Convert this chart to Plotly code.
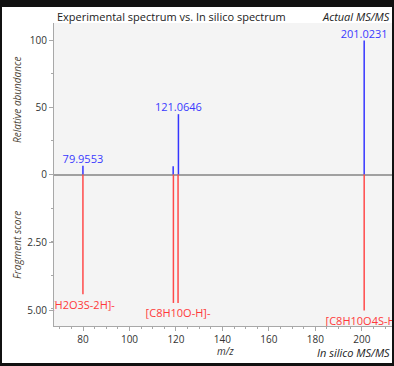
import plotly.graph_objects as go

# Experimental (top) spectrum: m/z and relative abundance
exp_mz = [79.9553, 118.8, 121.0646, 201.0231]
exp_int = [6.5, 6.2, 45, 100]
exp_labels = ["79.9553", "", "121.0646", "201.0231"]

# In silico (bottom) spectrum: m/z and fragment score
sil_mz = [79.9553, 118.9, 120.9, 201.0231]
sil_score = [4.4, 4.72, 4.72, 5.0]
sil_labels = ["[H2O3S-2H]-", "", "[C8H10O-H]-", "[C8H10O4S-H]-"]

abund_ticks = [0, 50, 100]
score_ticks = [2.5, 5.0]

SCORE_SCALE = 20.3  # score units mapped onto the mirrored axis
LABEL_GAP = 4.5     # extra gap (axis units) between in-silico stem end and label

# page geometry: white panel inset in a dark frame
PAGE_W, PAGE_H = 394, 366
OX, OY = 2, 7                 # panel offset on the page
W, H = 390, 356               # figure size
PL, PR, PT, PB = 54, 392, 23, 326   # plot area in page pixels
L, T = PL - OX, PT - OY
R, B = (OX + W) - PR, (OY + H) - PB
PW, PH = PR - PL, PB - PT
FONT = "Open Sans"


def px(x):
    return (x - PL) / PW


def py(y):
    return (PB - y) / PH


def stems(xs, ys):
    X, Y = [], []
    for x, y in zip(xs, ys):
        X += [x, x, None]
        Y += [0, y, None]
    return X, Y


fig = go.Figure()

bx, by = stems(exp_mz, exp_int)
fig.add_trace(go.Scatter(x=bx, y=by, mode="lines",
                         line=dict(color="#3535ff", width=1.5),
                         hoverinfo="skip", showlegend=False))
sil_y = [-s * SCORE_SCALE for s in sil_score]
rx, ry = stems(sil_mz, sil_y)
fig.add_trace(go.Scatter(x=rx, y=ry, mode="lines",
                         line=dict(color="#ff4a4a", width=1.5),
                         hoverinfo="skip", showlegend=False))

fig.add_trace(go.Scatter(x=exp_mz, y=exp_int, mode="text", text=exp_labels,
                         textposition="top center",
                         textfont=dict(family=FONT, size=11, color="#3a3aff"),
                         cliponaxis=True, hoverinfo="skip", showlegend=False))
fig.add_trace(go.Scatter(x=sil_mz, y=[v - LABEL_GAP for v in sil_y],
                         mode="text", text=sil_labels,
                         textposition="bottom center",
                         textfont=dict(family=FONT, size=11, color="#ff3a3a"),
                         cliponaxis=True, hoverinfo="skip", showlegend=False))

ytick_vals = [-s * SCORE_SCALE for s in score_ticks] + abund_ticks
ytick_text = ["%.2f" % s for s in score_ticks] + [str(v) for v in abund_ticks]

axis_common = dict(showgrid=False, showline=True, linecolor="#a8a8a8",
                   linewidth=1, ticks="outside", ticklen=4, tickcolor="#a8a8a8",
                   tickfont=dict(family=FONT, size=10, color="#333"))

fig.update_xaxes(range=[67.5, 213], dtick=20, tick0=0, zeroline=False,
                 minor=dict(dtick=5, tick0=0, ticks="outside", ticklen=2,
                            tickcolor="#a8a8a8"),
                 **axis_common)
fig.update_yaxes(range=[-113, 113], tickmode="array", tickvals=ytick_vals,
                 ticktext=ytick_text, zeroline=True, zerolinecolor="#a0a0a0",
                 zerolinewidth=2,
                 minor=dict(tickmode="linear", dtick=25, tick0=0,
                            ticks="outside", ticklen=2, tickcolor="#a8a8a8"),
                 **axis_common)

ann = []
ann.append(dict(text="Experimental spectrum vs. In silico spectrum",
                x=px(55), y=py(16), xanchor="left", yanchor="middle",
                font=dict(family=FONT, size=11, color="#222")))
ann.append(dict(text="<i>Actual MS/MS</i>", x=px(392), y=py(16),
                xanchor="right", yanchor="middle",
                font=dict(family=FONT, size=11, color="#222")))
ann.append(dict(text="<i>m/z</i>", x=px(225), y=py(351),
                xanchor="center", yanchor="middle",
                font=dict(family=FONT, size=10, color="#333")))
ann.append(dict(text="<i>In silico MS/MS</i>", x=px(392), y=py(352),
                xanchor="right", yanchor="middle",
                font=dict(family=FONT, size=11, color="#222")))
ann.append(dict(text="<i>Relative abundance</i>", x=px(17), y=py(100),
                textangle=-90, xanchor="center", yanchor="middle",
                font=dict(family=FONT, size=10, color="#4a4232")))
ann.append(dict(text="<i>Fragment score</i>", x=px(17), y=py(245),
                textangle=-90, xanchor="center", yanchor="middle",
                font=dict(family=FONT, size=10, color="#4a4232")))
for a in ann:
    a.update(xref="paper", yref="paper", showarrow=False)

fig.update_layout(width=W, height=H,
                  margin=dict(l=L, r=R, t=T, b=B, pad=0),
                  paper_bgcolor="white", plot_bgcolor="#f4f4f4",
                  annotations=ann, showlegend=False)

post = (
    "document.documentElement.style.background='#111';"
    "document.body.style.margin='0';"
    "document.body.style.overflow='hidden';"
    "document.body.style.background='#111';"
    "var gd=document.getElementById('{plot_id}');"
    "gd.style.position='absolute';"
    "gd.style.left='%dpx';gd.style.top='%dpx';" % (OX, OY)
)
fig.write_html("out.html", config={"displayModeBar": False},
               post_script=post)
